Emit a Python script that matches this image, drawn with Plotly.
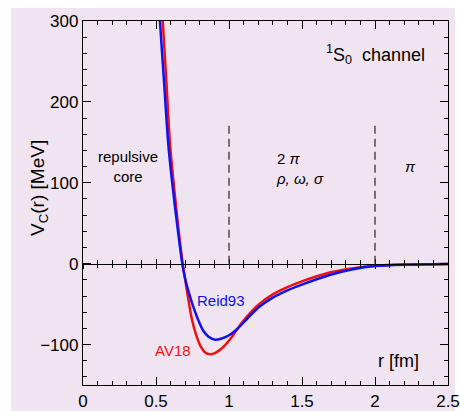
import plotly.graph_objects as go

# Central potential in the 1S0 channel for two NN models
r_av18 = [0.53, 0.546, 0.571, 0.596, 0.615, 0.635, 0.657, 0.683, 0.710, 0.727, 0.745, 0.775,
          0.805, 0.835, 0.870, 0.91, 0.961, 1.018, 1.055, 1.12, 1.20, 1.30, 1.40, 1.49,
          1.69, 1.85, 2.0, 2.2, 2.5]
v_av18 = [340, 300, 225, 148, 110, 75, 38, 0, -31, -50, -68, -88,
          -102, -109.5, -112, -110, -103, -91, -81, -66, -51, -38, -29, -22.5,
          -11, -5.5, -2.5, -1, -0.3]

r_reid = [0.515, 0.527, 0.555, 0.584, 0.605, 0.627, 0.652, 0.68, 0.70, 0.722, 0.751, 0.79,
          0.824, 0.86, 0.904, 0.95, 1.0, 1.055, 1.13, 1.21, 1.30, 1.40, 1.49,
          1.69, 1.85, 2.0, 2.2, 2.5]
v_reid = [340, 300, 225, 148, 110, 75, 38, 0, -19, -34, -51, -70,
          -83, -90.5, -94, -92.5, -88.5, -81, -67, -53, -42, -33, -26.5,
          -14, -7, -3, -1.2, -0.4]

x_range = [0, 2.5]
y_range = [-150, 300]
region_bounds = [1, 2]

BG = "#F0E4F0"
FONT = "Liberation Sans, Arial, sans-serif"
RED = "#F01010"
BLUE = "#1010F0"

fig = go.Figure()
fig.add_trace(go.Scatter(x=r_av18, y=v_av18, mode="lines", name="AV18",
                         line=dict(color=RED, width=2.5, shape="spline", smoothing=0.8)))
fig.add_trace(go.Scatter(x=r_reid, y=v_reid, mode="lines", name="Reid93",
                         line=dict(color=BLUE, width=2.5, shape="spline", smoothing=0.8)))

# page background panel
fig.add_shape(type="rect", xref="paper", yref="paper", x0=-0.197, x1=1.019, y0=-0.08, y1=1.036,
              fillcolor=BG, line_width=0, layer="below")

# boundaries between the interaction regions
for xb in region_bounds:
    fig.add_shape(type="line", x0=xb, x1=xb, y0=0, y1=175,
                  line=dict(color="#333333", width=1.3, dash="8px,5px"))

axis_common = dict(showline=True, linecolor="black", linewidth=1.3, mirror="ticks",
                   ticks="inside", ticklen=8, tickcolor="black", tickwidth=1.3,
                   showgrid=False, zeroline=False, automargin=False,
                   tickfont=dict(family=FONT, size=17, color="black"))

fig.update_xaxes(range=x_range, dtick=0.5, tick0=0,
                 minor=dict(dtick=0.1, ticks="inside", ticklen=4, tickcolor="black", tickwidth=1.2),
                 **axis_common)
fig.update_yaxes(range=y_range, dtick=100, tick0=0,
                 minor=dict(dtick=20, ticks="inside", ticklen=4, tickcolor="black", tickwidth=1.2),
                 **axis_common)

# zero line with its own tick marks, crossing both sides
zero_pos = (0 - y_range[0]) / (y_range[1] - y_range[0])
fig.update_layout(
    xaxis2=dict(overlaying="x", anchor="free", position=zero_pos, range=x_range, side="bottom",
                showline=True, linecolor="black", linewidth=1.3, showticklabels=False,
                ticks="inside", ticklen=5, tickwidth=1.3, tickcolor="black", dtick=0.5, tick0=0,
                minor=dict(dtick=0.1, ticks="inside", ticklen=4, tickcolor="black", tickwidth=1.2),
                showgrid=False, zeroline=False, automargin=False),
    xaxis3=dict(overlaying="x", anchor="free", position=zero_pos, range=x_range, side="bottom",
                showline=False, showticklabels=False,
                ticks="outside", ticklen=4, tickwidth=1.3, tickcolor="black", dtick=0.5, tick0=0,
                minor=dict(dtick=0.1, ticks="outside", ticklen=3, tickcolor="black", tickwidth=1.2),
                showgrid=False, zeroline=False, automargin=False),
)
fig.add_trace(go.Scatter(x=x_range, y=[0, 0], xaxis="x2", mode="lines",
                         line=dict(color="rgba(0,0,0,0)"), hoverinfo="skip", showlegend=False))
fig.add_trace(go.Scatter(x=x_range, y=[0, 0], xaxis="x3", mode="lines",
                         line=dict(color="rgba(0,0,0,0)"), hoverinfo="skip", showlegend=False))

def note(x, y, text, size, color="black", xanchor="center", align="center"):
    fig.add_annotation(x=x, y=y, text=text, showarrow=False, xanchor=xanchor, align=align,
                       font=dict(family=FONT, size=size, color=color))

note(0.31, 120, "repulsive<br>core", 15)
note(1.31, 118, "2 <i>π</i><br><i>ρ, ω, σ</i>", 15, xanchor="left", align="left")
note(2.24, 120, "<i>π</i>", 15)
note(2.356, 259, "<sup>1</sup>S<sub>0</sub>  channel", 18, xanchor="right")
note(2.16, -120, "r [fm]", 18)
note(0.945, -45, "Reid93", 15, color=BLUE)
note(0.617, -107, "AV18", 15, color=RED)

# y-axis title
fig.add_annotation(xref="paper", yref="paper", x=(25 - 83) / 365, y=(385 - 188) / 364,
                   text="V<sub>C</sub>(r) [MeV]", textangle=-90, showarrow=False,
                   font=dict(family=FONT, size=19, color="black"))

fig.update_layout(
    width=460, height=411,
    margin=dict(l=83, r=12, t=21, b=26),
    paper_bgcolor="white", plot_bgcolor=BG,
    showlegend=False,
)

fig.write_html("out.html")
